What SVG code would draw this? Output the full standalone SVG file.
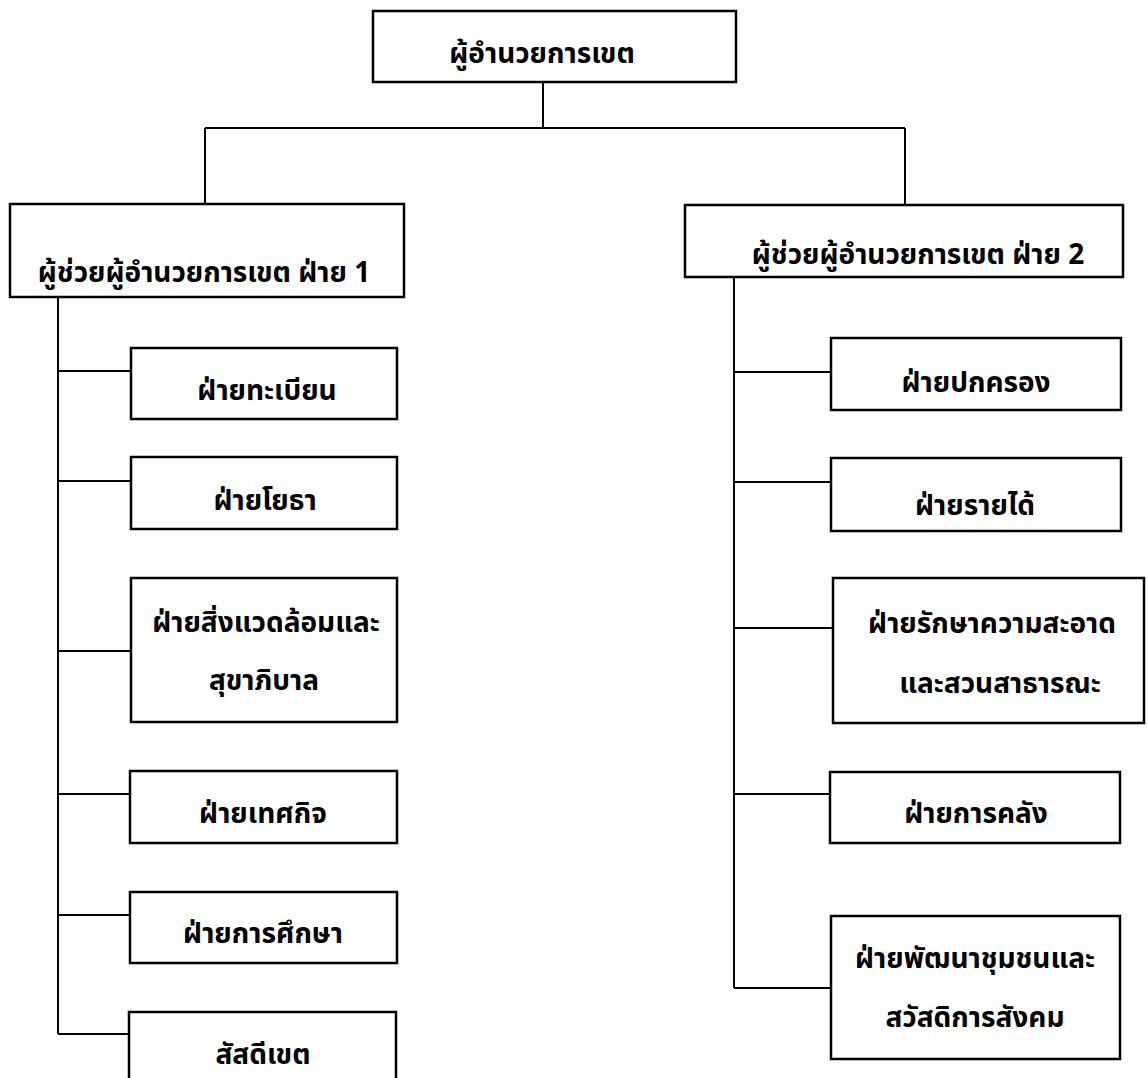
<svg xmlns="http://www.w3.org/2000/svg" width="1147" height="1078" viewBox="0 0 1147 1078">
<style>
.box{fill:#fff;stroke:#000;stroke-width:2.5}
.ln{fill:none;stroke:#000;stroke-width:2}
text{font-family:"Noto Sans Thai","Noto Sans","DejaVu Sans",sans-serif;font-weight:bold;font-size:28px;fill:#000;text-anchor:middle}
</style>
<rect width="1147" height="1078" fill="#fff"/>
<g id="connectors">
<path class="ln" d="M543 82V128M205 128H905M205 128V204M905 128V205"/>
<path class="ln" d="M58 297V1034M58 371H131M58 481H131M58 651H131M58 794H130M58 915H130M58 1034H129"/>
<path class="ln" d="M734 277V988M734 372H831M734 482H831M734 628H833M734 794H830M734 988H831"/>
</g>
<g id="n-director"><rect class="box" x="373" y="11" width="363" height="71"/><text x="542" y="63">ผู้อำนวยการเขต</text></g>
<g id="n-asst1"><rect class="box" x="10" y="204" width="394" height="93"/><text x="204" y="282">ผู้ช่วยผู้อำนวยการเขต ฝ่าย 1</text></g>
<g id="n-asst2"><rect class="box" x="685" y="205" width="438" height="72"/><text x="918" y="264">ผู้ช่วยผู้อำนวยการเขต ฝ่าย 2</text></g>
<g id="n-l1"><rect class="box" x="131" y="348" width="266" height="71"/><text x="267" y="400">ฝ่ายทะเบียน</text></g>
<g id="n-l2"><rect class="box" x="131" y="457" width="266" height="72"/><text x="265" y="510">ฝ่ายโยธา</text></g>
<g id="n-l3"><rect class="box" x="131" y="578" width="266" height="144"/><text x="266" y="632">ฝ่ายสิ่งแวดล้อมและ</text><text x="264" y="690">สุขาภิบาล</text></g>
<g id="n-l4"><rect class="box" x="130" y="771" width="267" height="72"/><text x="263" y="823">ฝ่ายเทศกิจ</text></g>
<g id="n-l5"><rect class="box" x="130" y="892" width="267" height="71"/><text x="263" y="943">ฝ่ายการศึกษา</text></g>
<g id="n-l6"><rect class="box" x="129" y="1012" width="267" height="80"/><text x="263" y="1064">สัสดีเขต</text></g>
<g id="n-r1"><rect class="box" x="831" y="338" width="290" height="72"/><text x="976" y="392">ฝ่ายปกครอง</text></g>
<g id="n-r2"><rect class="box" x="831" y="458" width="290" height="73"/><text x="975" y="515">ฝ่ายรายได้</text></g>
<g id="n-r3"><rect class="box" x="833" y="578" width="311" height="145"/><text x="992" y="633">ฝ่ายรักษาความสะอาด</text><text x="1000" y="693">และสวนสาธารณะ</text></g>
<g id="n-r4"><rect class="box" x="830" y="772" width="290" height="71"/><text x="976" y="823">ฝ่ายการคลัง</text></g>
<g id="n-r5"><rect class="box" x="831" y="916" width="289" height="143"/><text x="975" y="968">ฝ่ายพัฒนาชุมชนและ</text><text x="975" y="1027">สวัสดิการสังคม</text></g>
</svg>
